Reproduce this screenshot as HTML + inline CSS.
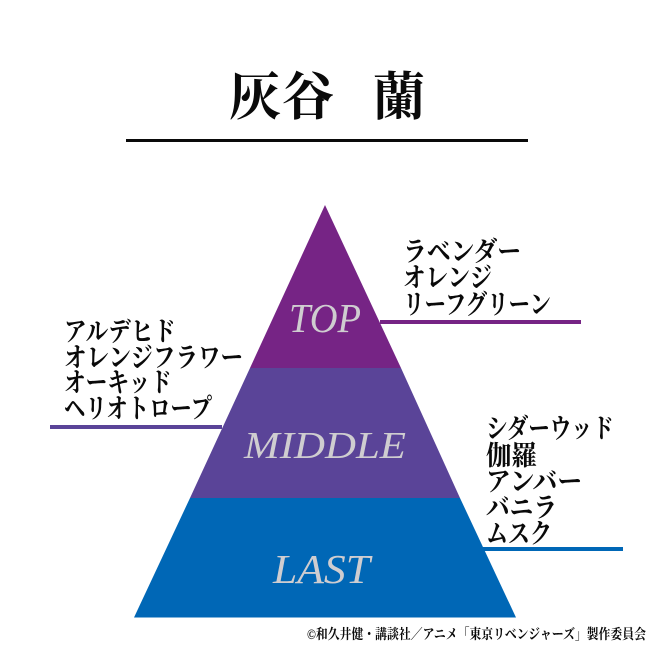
<!DOCTYPE html>
<html lang="ja"><head><meta charset="utf-8"><style>
html,body{margin:0;padding:0;background:#fff}
svg{display:block}
.j{font-family:"Liberation Serif","Noto Serif CJK JP","Noto Serif CJK SC",serif;font-weight:700;fill:#0a0a0a}
.l{font-family:"Liberation Serif",serif;font-style:italic;fill:#cfcdd0}
</style></head><body>
<svg width="650" height="650" viewBox="0 0 650 650" xmlns="http://www.w3.org/2000/svg">
<rect width="650" height="650" fill="#fff"/>
<text class="j" x="229" y="115" font-size="52">灰</text>
<text class="j" x="282" y="115" font-size="52">谷</text>
<text class="j" x="373" y="115" font-size="52">蘭</text>
<rect x="126" y="139" width="402" height="3" fill="#0a0a0a"/>
<polygon points="325,205 401,368 250,368" fill="#762485"/>
<polygon points="250,368 401,368 460,498 190,498" fill="#5a4498"/>
<polygon points="190,498 460,498 516,617.5 134,617.5" fill="#0067b6"/>
<rect x="380" y="320" width="201" height="4" fill="#762485"/>
<rect x="50" y="425" width="172" height="4" fill="#5a4498"/>
<rect x="483" y="547" width="140" height="4" fill="#0067b6"/>
<text class="l" x="289" y="332" font-size="41" textLength="72" lengthAdjust="spacingAndGlyphs">TOP</text>
<text class="l" x="244" y="458" font-size="38" textLength="162" lengthAdjust="spacingAndGlyphs">MIDDLE</text>
<text class="l" x="273" y="583" font-size="41" textLength="97" lengthAdjust="spacingAndGlyphs">LAST</text>
<g font-size="27">
<text class="j" x="403" y="261" textLength="118" lengthAdjust="spacingAndGlyphs">ラベンダー</text>
<text class="j" x="403" y="287" textLength="89" lengthAdjust="spacingAndGlyphs">オレンジ</text>
<text class="j" x="403" y="314" textLength="148" lengthAdjust="spacingAndGlyphs">リーフグリーン</text>
<text class="j" x="64" y="341" textLength="112" lengthAdjust="spacingAndGlyphs">アルデヒド</text>
<text class="j" x="64" y="367" textLength="179" lengthAdjust="spacingAndGlyphs">オレンジフラワー</text>
<text class="j" x="64" y="392" textLength="108" lengthAdjust="spacingAndGlyphs">オーキッド</text>
<text class="j" x="64" y="418" textLength="148" lengthAdjust="spacingAndGlyphs">ヘリオトロープ</text>
<text class="j" x="486" y="438" textLength="128" lengthAdjust="spacingAndGlyphs">シダーウッド</text>
<text class="j" x="486" y="465" textLength="51" lengthAdjust="spacingAndGlyphs">伽羅</text>
<text class="j" x="486" y="491" textLength="96" lengthAdjust="spacingAndGlyphs">アンバー</text>
<text class="j" x="486" y="517" textLength="71" lengthAdjust="spacingAndGlyphs">バニラ</text>
<text class="j" x="486" y="543" textLength="66" lengthAdjust="spacingAndGlyphs">ムスク</text>
</g>
<text class="j" x="307" y="639" font-size="14" textLength="339" lengthAdjust="spacingAndGlyphs">©和久井健・講談社／アニメ「東京リベンジャーズ」製作委員会</text>
</svg>
</body></html>
